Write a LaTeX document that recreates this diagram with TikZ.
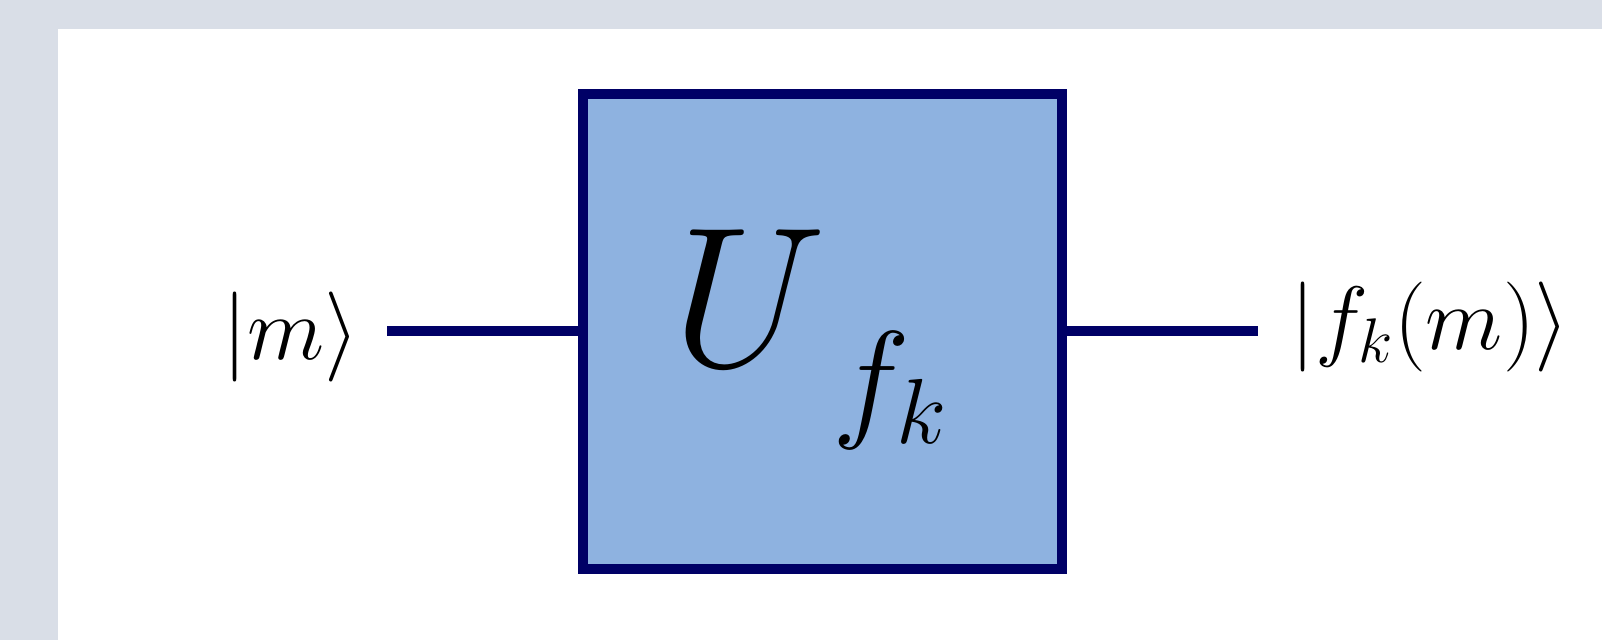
\documentclass[tikz,border=0pt]{standalone}
\usepackage{fix-cm}
\definecolor{bgframe}{HTML}{D9DEE7}
\definecolor{gatefill}{HTML}{8EB2E0}
\definecolor{navy}{HTML}{000066}
\tikzset{
  gatebox/.style={draw=navy, fill=gatefill, line width=5pt, rectangle, minimum width=239.5pt, minimum height=237.5pt, inner sep=0pt},
  wire/.style={draw=navy, line width=5pt},
  ketlabel/.style={inner sep=0pt, font=\fontsize{45}{50}\selectfont}
}
\begin{document}
\begin{tikzpicture}[x=0.5pt, y=-0.5pt]
\useasboundingbox (0,0) rectangle (1602,640);
\fill[bgframe] (0,0) rectangle (1602,640);
\fill[white] (58,29) rectangle (1602,640);
\node[gatebox] (gate) at (822.5,331.5) {};
\node[anchor=base west, inner sep=0pt] (glabel) at (672,367)
  {\fontsize{100}{100}\selectfont$U$\hspace{3pt}\raisebox{-28.5pt}{\fontsize{66}{70}\selectfont$f_{k}$}};
\node[ketlabel, anchor=west] (inlbl) at (222,337) {$|m\rangle$};
\node[ketlabel, anchor=west] (outlbl) at (1290,327) {$|f_{k}(m)\rangle$};
\coordinate (inend) at (387,331.5);
\coordinate (outend) at (1258,331.5);
\draw[wire] (inend) -- (gate.west);
\draw[wire] (gate.east) -- (outend);
\end{tikzpicture}
\end{document}
